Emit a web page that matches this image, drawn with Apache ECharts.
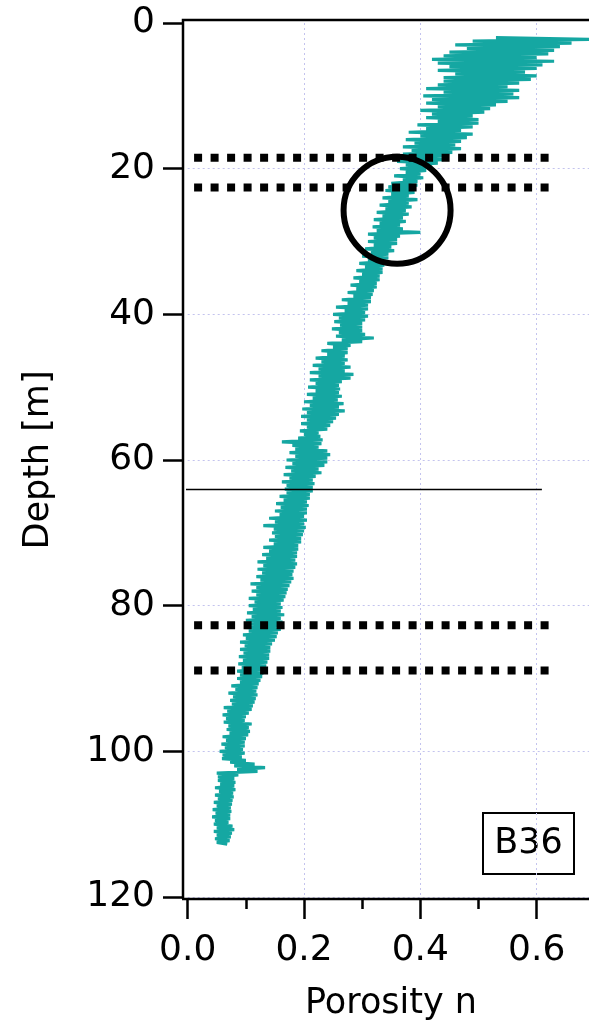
<!DOCTYPE html>
<html>
<head>
<meta charset="utf-8">
<title>B36 porosity log</title>
<script src="https://cdn.jsdelivr.net/npm/echarts@6/dist/echarts.min.js"></script>
<style>
  html, body { margin: 0; padding: 0; background: #fff; }
  #chart { width: 589px; height: 1029px; }
</style>
</head>
<body>
<div id="chart"></div>
<script>
// Porosity log of borehole B36, sampled every 0.25 m from 2.0 m depth.
const depthStart = 2.0;
const depthStep = 0.25;
const porosity = [
  // 2 - 3.75 m
  0.53, 0.69, 0.49, 0.66, 0.46, 0.64, 0.48, 0.63,
  // 4 - 5.75 m
  0.45, 0.62, 0.44, 0.60, 0.42, 0.63, 0.43, 0.61,
  // 6 - 7.75 m
  0.45, 0.60, 0.43, 0.58, 0.46, 0.60, 0.44, 0.59,
  // 8 - 9.75 m
  0.44, 0.57, 0.43, 0.55, 0.41, 0.57, 0.44, 0.56,
  // 10 - 11.75 m
  0.405, 0.57, 0.42, 0.55, 0.41, 0.53, 0.43, 0.52,
  // 12 - 13.75 m
  0.40, 0.51, 0.42, 0.49, 0.41, 0.50, 0.43, 0.50,
  // 14 - 15.75 m
  0.395, 0.49, 0.41, 0.47, 0.38, 0.49, 0.40, 0.48,
  // 16 - 17.75 m
  0.375, 0.47, 0.39, 0.46, 0.37, 0.47, 0.385, 0.455,
  // 18 - 19.75 m
  0.37, 0.445, 0.38, 0.44, 0.36, 0.43, 0.375, 0.42,
  // 20 - 21.75 m
  0.365, 0.41, 0.375, 0.40, 0.355, 0.405, 0.37, 0.395,
  // 22 - 23.75 m
  0.35, 0.395, 0.345, 0.385, 0.34, 0.39, 0.35, 0.38,
  // 24 - 25.75 m
  0.335, 0.395, 0.345, 0.38, 0.33, 0.385, 0.34, 0.375,
  // 26 - 27.75 m
  0.325, 0.38, 0.335, 0.37, 0.32, 0.375, 0.33, 0.365,
  // 28 - 29.75 m
  0.318, 0.37, 0.325, 0.40, 0.31, 0.365, 0.32, 0.36,
  // 30 - 31.75 m
  0.31, 0.36, 0.32, 0.35, 0.305, 0.355, 0.315, 0.345,
  // 32 - 33.75 m
  0.30, 0.345, 0.31, 0.34, 0.295, 0.338, 0.305, 0.335,
  // 34 - 35.75 m
  0.29, 0.335, 0.30, 0.33, 0.285, 0.33, 0.295, 0.325,
  // 36 - 37.75 m
  0.28, 0.325, 0.29, 0.32, 0.275, 0.318, 0.285, 0.315,
  // 38 - 39.75 m
  0.265, 0.315, 0.275, 0.31, 0.255, 0.31, 0.27, 0.305,
  // 40 - 41.75 m
  0.25, 0.31, 0.26, 0.305, 0.252, 0.30, 0.262, 0.30,
  // 42 - 43.75 m
  0.248, 0.30, 0.26, 0.305, 0.255, 0.32, 0.265, 0.30,
  // 44 - 45.75 m
  0.24, 0.28, 0.25, 0.275, 0.23, 0.275, 0.24, 0.27,
  // 46 - 47.75 m
  0.22, 0.275, 0.23, 0.27, 0.215, 0.28, 0.225, 0.27,
  // 48 - 49.75 m
  0.21, 0.285, 0.225, 0.28, 0.21, 0.265, 0.22, 0.26,
  // 50 - 51.75 m
  0.207, 0.262, 0.22, 0.26, 0.205, 0.265, 0.215, 0.258,
  // 52 - 53.75 m
  0.20, 0.268, 0.21, 0.26, 0.197, 0.27, 0.205, 0.26,
  // 54 - 55.75 m
  0.195, 0.255, 0.205, 0.25, 0.195, 0.245, 0.205, 0.24,
  // 56 - 57.75 m
  0.193, 0.225, 0.20, 0.228, 0.19, 0.232, 0.162, 0.23,
  // 58 - 59.75 m
  0.18, 0.225, 0.185, 0.24, 0.175, 0.245, 0.185, 0.24,
  // 60 - 61.75 m
  0.17, 0.24, 0.18, 0.235, 0.168, 0.225, 0.178, 0.23,
  // 62 - 63.75 m
  0.165, 0.22, 0.175, 0.215, 0.162, 0.218, 0.17, 0.215,
  // 64 - 65.75 m
  0.167, 0.215, 0.17, 0.21, 0.158, 0.21, 0.165, 0.205,
  // 66 - 67.75 m
  0.152, 0.208, 0.16, 0.205, 0.15, 0.205, 0.158, 0.20,
  // 68 - 69.75 m
  0.14, 0.205, 0.15, 0.20, 0.13, 0.203, 0.148, 0.20,
  // 70 - 71.75 m
  0.145, 0.198, 0.15, 0.195, 0.14, 0.195, 0.148, 0.19,
  // 72 - 73.75 m
  0.13, 0.19, 0.14, 0.188, 0.128, 0.188, 0.135, 0.185,
  // 74 - 75.75 m
  0.12, 0.188, 0.13, 0.185, 0.12, 0.182, 0.128, 0.18,
  // 76 - 77.75 m
  0.118, 0.182, 0.125, 0.178, 0.108, 0.175, 0.118, 0.172,
  // 78 - 79.75 m
  0.11, 0.17, 0.118, 0.168, 0.105, 0.165, 0.115, 0.16,
  // 80 - 81.75 m
  0.105, 0.163, 0.112, 0.16, 0.102, 0.166, 0.11, 0.16,
  // 82 - 83.75 m
  0.10, 0.163, 0.108, 0.158, 0.098, 0.16, 0.105, 0.155,
  // 84 - 85.75 m
  0.095, 0.153, 0.10, 0.15, 0.09, 0.145, 0.098, 0.142,
  // 86 - 87.75 m
  0.09, 0.142, 0.096, 0.14, 0.088, 0.14, 0.095, 0.137,
  // 88 - 89.75 m
  0.087, 0.135, 0.093, 0.132, 0.085, 0.13, 0.09, 0.128,
  // 90 - 91.75 m
  0.085, 0.125, 0.09, 0.122, 0.075, 0.12, 0.082, 0.118,
  // 92 - 93.75 m
  0.07, 0.12, 0.078, 0.117, 0.073, 0.115, 0.076, 0.112,
  // 94 - 95.75 m
  0.062, 0.11, 0.068, 0.105, 0.06, 0.10, 0.066, 0.098,
  // 96 - 97.75 m
  0.062, 0.11, 0.07, 0.105, 0.067, 0.107, 0.072, 0.104,
  // 98 - 99.75 m
  0.06, 0.10, 0.066, 0.098, 0.058, 0.098, 0.064, 0.095,
  // 100 - 101.75 m
  0.055, 0.098, 0.06, 0.093, 0.059, 0.10, 0.073, 0.115,
  // 102 - 103.75 m
  0.08, 0.133, 0.085, 0.12, 0.05, 0.087, 0.052, 0.08,
  // 104 - 105.75 m
  0.052, 0.082, 0.056, 0.08, 0.047, 0.082, 0.054, 0.078,
  // 106 - 107.75 m
  0.047, 0.079, 0.052, 0.077, 0.045, 0.076, 0.05, 0.074,
  // 108 - 109.75 m
  0.043, 0.075, 0.048, 0.073, 0.042, 0.073, 0.047, 0.07,
  // 110 - 111.75 m
  0.045, 0.077, 0.05, 0.08, 0.045, 0.076, 0.05, 0.074,
  // 112 - 112.75 m
  0.047, 0.072, 0.05, 0.068
];

// Marked depth intervals (dotted) and the reference depth (solid), in m
const intervalDepths = [18.5, 22.6, 82.7, 88.9];
const intervalSpan = [0.011, 0.624];
const referenceDepth = 64.06;
const referenceSpan = [-0.008, 0.609];
// Highlighted zone: [porosity, depth]
const highlight = [0.36, 25.7];

const xTicks = [0.0, 0.2, 0.4, 0.6];
const yTicks = [0, 20, 40, 60, 80, 100, 120];
const xTitle = 'Porosity n';
const yTitle = 'Depth [m]';
const wellName = 'B36';

const FONT = 'DejaVu Sans';
const TEAL = '#15a7a2';

const logData = porosity.map((p, i) => [p, depthStart + i * depthStep]);

const chart = echarts.init(document.getElementById('chart'), null, { renderer: 'canvas' });

const series = [
  {
    type: 'line',
    data: logData,
    symbol: 'none',
    lineStyle: { color: TEAL, width: 3.2, join: 'bevel' },
    silent: true,
    z: 2
  },
  {
    type: 'line',
    data: [[referenceSpan[0], referenceDepth], [referenceSpan[1], referenceDepth]],
    symbol: 'none',
    clip: false,
    lineStyle: { color: '#000', width: 1.5 },
    silent: true,
    z: 3
  }
];
intervalDepths.forEach(d => {
  series.push({
    type: 'line',
    data: [[intervalSpan[0], d], [intervalSpan[1], d]],
    symbol: 'none',
    lineStyle: { color: '#000', width: 8, type: [8, 8.5], cap: 'butt' },
    silent: true,
    z: 4
  });
});
series.push({
  type: 'scatter',
  data: [highlight],
  symbol: 'circle',
  symbolSize: 107,
  itemStyle: { color: 'rgba(0,0,0,0)', borderColor: '#000', borderWidth: 6, opacity: 1 },
  silent: true,
  z: 5
});

const tickStyle = { color: '#000', width: 2.5 };
const gridLine = { show: true, showMinLine: false, lineStyle: { color: '#c3c3ee', width: 1, type: [2, 3] } };

chart.setOption({
  animation: false,
  backgroundColor: '#fff',
  grid: { left: 187.7, top: 23, width: 0.8 * 581.6, height: 874, containLabel: false, outerBoundsMode: 'none' },
  xAxis: {
    type: 'value',
    min: 0,
    max: 0.8,
    interval: 0.2,
    position: 'bottom',
    offset: 2,
    axisLine: { show: false, onZero: false },
    axisTick: { show: true, length: 20, lineStyle: tickStyle },
    minorTick: { show: true, splitNumber: 2, length: 10, lineStyle: tickStyle },
    splitLine: gridLine,
    axisLabel: {
      fontSize: 36, fontFamily: FONT, color: '#000', margin: 34,
      formatter: v => (xTicks.some(t => Math.abs(t - v) < 1e-9) ? v.toFixed(1) : '')
    }
  },
  yAxis: [
    {
      type: 'value',
      inverse: true,
      min: 0,
      max: 120,
      interval: 20,
      offset: 4.7,
      axisLine: { show: false, onZero: false },
      axisTick: { show: true, length: 20, lineStyle: tickStyle },
      splitLine: gridLine,
      axisLabel: {
        fontSize: 36, fontFamily: FONT, color: '#000', margin: 28,
        formatter: v => (yTicks.includes(v) ? String(v) : '')
      }
    },
    {
      type: 'value',
      inverse: true,
      min: 0,
      max: 120,
      interval: 10,
      offset: 4.7,
      axisLine: { show: false, onZero: false },
      axisTick: { show: true, length: 15, lineStyle: tickStyle },
      minorTick: { show: true, splitNumber: 5, length: 10, lineStyle: tickStyle },
      splitLine: { show: false },
      axisLabel: { show: false }
    }
  ],
  series: series,
  graphic: [
    // plot frame: left axis, top border, bottom axis
    {
      type: 'polyline', silent: true, z: 10,
      shape: { points: [[183, 899], [183, 20], [589, 20]] },
      style: { stroke: '#000', lineWidth: 2.5, fill: null }
    },
    {
      type: 'line', silent: true, z: 10,
      shape: { x1: 182, y1: 899, x2: 589, y2: 899 },
      style: { stroke: '#000', lineWidth: 2.5 }
    },
    {
      type: 'text', silent: true, z: 10,
      x: 391, y: 1004,
      style: { text: xTitle, font: '35px "' + FONT + '"', fill: '#000', align: 'center', verticalAlign: 'middle' }
    },
    {
      type: 'text', silent: true, z: 10,
      x: 39, y: 460, rotation: Math.PI / 2,
      style: { text: yTitle, font: '35px "' + FONT + '"', fill: '#000', align: 'center', verticalAlign: 'middle' }
    },
    {
      type: 'group', silent: true, z: 10,
      children: [
        {
          type: 'rect',
          shape: { x: 483, y: 813, width: 91, height: 61 },
          style: { fill: '#fff', stroke: '#000', lineWidth: 2 }
        },
        {
          type: 'text',
          x: 528.5, y: 844,
          style: { text: wellName, font: '35px "' + FONT + '"', fill: '#000', align: 'center', verticalAlign: 'middle' }
        }
      ]
    }
  ]
});
</script>
</body>
</html>
